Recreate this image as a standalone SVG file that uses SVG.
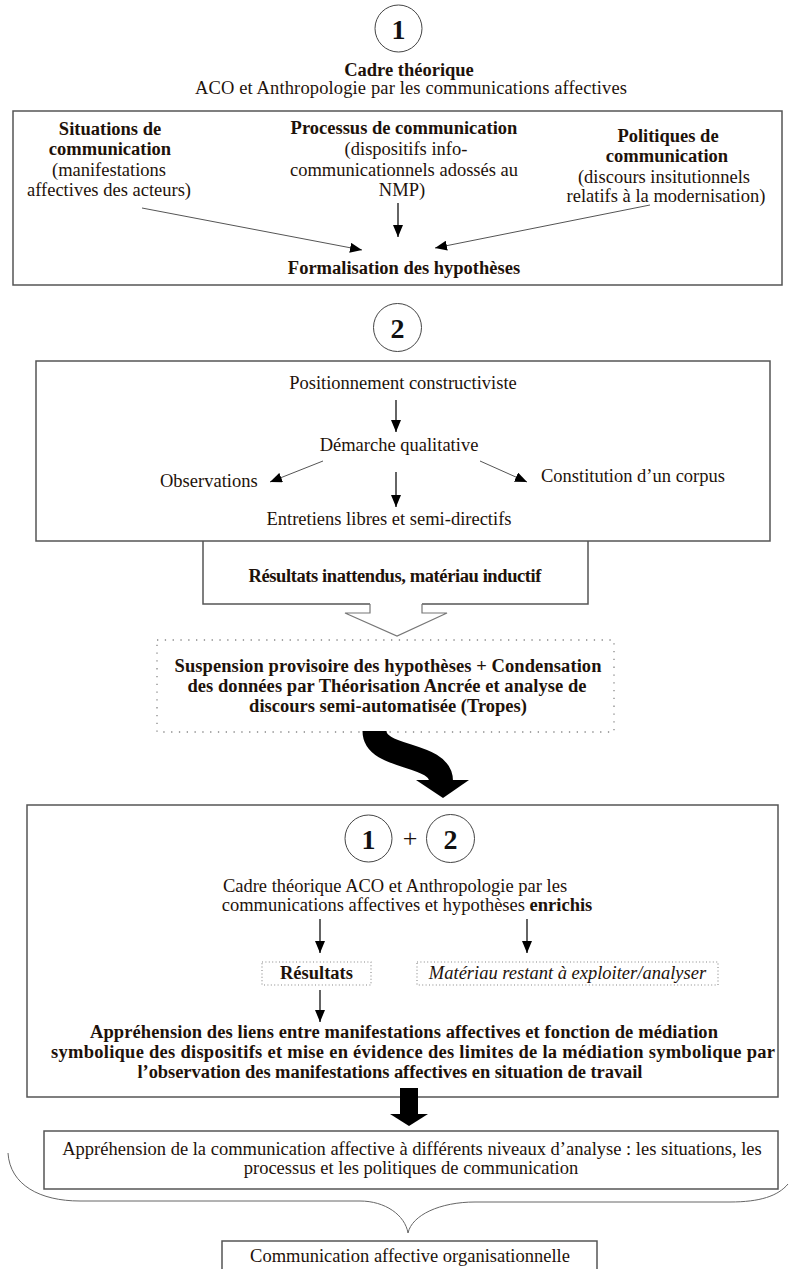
<svg xmlns="http://www.w3.org/2000/svg" width="791" height="1269" viewBox="0 0 791 1269">
<style>
.t{font-family:"Liberation Serif","Times New Roman",serif;font-size:18.5px;fill:#1e120a;text-anchor:middle}
.b{font-weight:bold}
.s{text-anchor:start}
.n{font-family:"Liberation Serif","Times New Roman",serif;font-size:28px;font-weight:bold;fill:#111;text-anchor:middle}
.box{fill:#fff;stroke:#555;stroke-width:1.5}
.open{fill:none;stroke:#555;stroke-width:1.5}
.dot{fill:none;stroke:#888;stroke-width:1.3;stroke-dasharray:1.3 6.5}
.dots{fill:none;stroke:#888;stroke-width:1.1;stroke-dasharray:1 2.4}
.circ{fill:#fff;stroke:#444;stroke-width:1}
.ar{fill:none;stroke:#111;stroke-width:1.3;marker-end:url(#ah)}
.ard{fill:none;stroke:#555;stroke-width:1;marker-end:url(#ah)}
</style>
<defs>
<marker id="ah" viewBox="0 0 12 10" refX="12" refY="5" markerWidth="12" markerHeight="10" orient="auto" markerUnits="userSpaceOnUse">
<path d="M0,0 L12,5 L0,10 z" fill="#000"/>
</marker>
</defs>
<rect width="791" height="1269" fill="#fff"/>

<g id="circle1-top">
<circle class="circ" cx="398.5" cy="28.5" r="23.5"/>
<text class="n" x="398.5" y="38.5">1</text>
</g>
<g id="cadre-theorique">
<text class="t b" x="409" y="76">Cadre théorique</text>
<text class="t" x="411" y="94" textLength="432">ACO et Anthropologie par les communications affectives</text>
</g>

<g id="box1">
<rect class="box" x="13" y="111" width="769" height="174"/>
</g>
<g id="situations">
<text class="t b" x="110" y="135">Situations de</text>
<text class="t b" x="110" y="155">communication</text>
<text class="t" x="109" y="176">(manifestations</text>
<text class="t" x="109" y="196">affectives des acteurs)</text>
</g>
<g id="processus">
<text class="t b" x="404" y="134">Processus de communication</text>
<text class="t" x="406" y="155">(dispositifs info-</text>
<text class="t" x="404" y="176">communicationnels adossés au</text>
<text class="t" x="402" y="196">NMP)</text>
</g>
<g id="politiques">
<text class="t b" x="668" y="142">Politiques de</text>
<text class="t b" x="667" y="162">communication</text>
<text class="t" x="664" y="183">(discours insitutionnels</text>
<text class="t" x="666" y="202">relatifs à la modernisation)</text>
</g>
<g id="formalisation">
<text class="t b" x="404" y="274">Formalisation des hypothèses</text>
</g>

<g id="circle2">
<circle class="circ" cx="397.5" cy="327.5" r="24"/>
<text class="n" x="397.5" y="337.5">2</text>
</g>

<g id="box2">
<rect class="box" x="36" y="361" width="734" height="180"/>
</g>
<g id="positionnement"><text class="t" x="403" y="389">Positionnement constructiviste</text></g>
<g id="demarche"><text class="t" x="399" y="451">Démarche qualitative</text></g>
<g id="observations"><text class="t s" x="160" y="487">Observations</text></g>
<g id="constitution"><text class="t s" x="541" y="482">Constitution d’un corpus</text></g>
<g id="entretiens"><text class="t" x="389" y="525">Entretiens libres et semi-directifs</text></g>

<g id="resultats-inattendus">
<path class="open" d="M203,541 V604 H370 M422,604 H588 V541"/>
<text class="t b" x="395" y="582" textLength="293">Résultats inattendus, matériau inductif</text>
</g>

<g id="suspension">
<rect class="dot" x="157" y="640" width="457" height="92"/>
<text class="t b" x="388" y="672" textLength="427">Suspension provisoire des hypothèses + Condensation</text>
<text class="t b" x="387" y="692" textLength="399">des données par Théorisation Ancrée et analyse de</text>
<text class="t b" x="388" y="712">discours semi-automatisée (Tropes)</text>
</g>

<g id="box3">
<rect class="box" x="27" y="805" width="751" height="292"/>
</g>
<g id="circles-1-2">
<circle class="circ" cx="368.5" cy="838.5" r="23.5"/>
<text class="n" x="368.5" y="848.5">1</text>
<text class="t" x="410" y="847" style="font-size:26px">+</text>
<circle class="circ" cx="450.5" cy="838.5" r="24"/>
<text class="n" x="450.5" y="848.5">2</text>
</g>
<g id="cadre-enrichi">
<text class="t" x="395" y="892">Cadre théorique ACO et Anthropologie par les</text>
<text class="t" x="407" y="911">communications affectives et hypothèses <tspan class="b">enrichis</tspan></text>
</g>
<g id="resultats">
<rect class="dots" x="262" y="962" width="109" height="23"/>
<text class="t b" x="316.5" y="979">Résultats</text>
</g>
<g id="materiau">
<rect class="dots" x="417" y="962" width="301" height="23"/>
<text class="t" x="567.5" y="979" style="font-style:italic">Matériau restant à exploiter/analyser</text>
</g>
<g id="apprehension-liens">
<text class="t b" x="404" y="1038" textLength="628">Appréhension des liens entre manifestations affectives et fonction de médiation</text>
<text class="t b" x="413" y="1058" textLength="724">symbolique des dispositifs et mise en évidence des limites de la médiation symbolique par</text>
<text class="t b" x="390" y="1078" textLength="505">l’observation des manifestations affectives en situation de travail</text>
</g>

<g id="box4">
<rect class="box" x="44" y="1131" width="734" height="58"/>
<text class="t" x="412" y="1155">Appréhension de la communication affective à différents niveaux d’analyse : les situations, les</text>
<text class="t" x="411" y="1174">processus et les politiques de communication</text>
</g>

<g id="final">
<rect class="box" x="222" y="1241" width="375" height="40"/>
<text class="t" x="410" y="1262">Communication affective organisationnelle</text>
</g>

<g id="connectors">
<line class="ard" x1="142" y1="208" x2="362" y2="250"/>
<line class="ar" x1="398" y1="203" x2="398" y2="237"/>
<line class="ard" x1="650" y1="205" x2="435" y2="248"/>
<line class="ar" x1="396" y1="400" x2="396" y2="432"/>
<line class="ard" x1="323" y1="461" x2="270" y2="482"/>
<line class="ar" x1="396" y1="472" x2="396" y2="507"/>
<line class="ard" x1="480" y1="461" x2="527" y2="482"/>
<path d="M370,604 V613 H345 L397,636 L447,613 H422 V604" fill="#fff" stroke="#777" stroke-width="1.2"/>
<path d="M374.5,731 C374.5,760 441,752 441,781" fill="none" stroke="#000" stroke-width="24"/>
<polygon points="416,780 469,780 443,798" fill="#000"/>
<line class="ar" x1="320" y1="919" x2="320" y2="953"/>
<line class="ar" x1="527" y1="919" x2="527" y2="953"/>
<line class="ar" x1="320" y1="990" x2="320" y2="1022"/>
<rect x="400" y="1088" width="18" height="28" fill="#000"/>
<polygon points="390,1114 428,1114 409,1126" fill="#000"/>
<path d="M8,1153 C10,1185 40,1201 80,1201 L360,1201 C385,1201 405,1215 408,1233" fill="none" stroke="#666" stroke-width="1"/>
<path d="M788,1184 C778,1196 760,1202 730,1202 L475,1202 C440,1202 412,1215 408,1233" fill="none" stroke="#666" stroke-width="1"/>
</g>
</svg>
